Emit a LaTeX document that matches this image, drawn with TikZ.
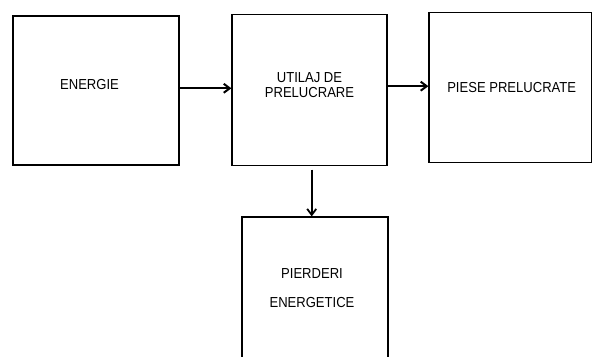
\documentclass[tikz,border=0pt]{standalone}
\usepackage{fontspec}
\setmainfont[FakeStretch=0.9]{Liberation Sans}
\usetikzlibrary{arrows.meta}

\begin{document}
\begin{tikzpicture}[x=1pt,y=1pt,line width=1.2pt,>={Straight Barb[length=6pt,width=9pt]},
  box/.style={draw,inner sep=0pt},
  lbl/.style={font=\fontsize{14.5}{15.3}\selectfont,align=center,inner sep=0pt}]
  \useasboundingbox (0,0) rectangle (593,356);
  % blocks
  \node[box,minimum width=166pt,minimum height=149pt] (energie) at (96,265.5) {};
  \node[box,minimum width=155pt,minimum height=151pt] (utilaj) at (309.5,265.8) {};
  \node[box,minimum width=162.5pt,minimum height=150pt] (piese) at (510.2,268.3) {};
  \node[box,minimum width=146pt,minimum height=150pt] (pierderi) at (315,64) {};

  \node[lbl] (energie-t) at ([shift={(-6.5,5.8)}]energie.center) {ENERGIE};
  \node[lbl] (utilaj-t) at ([shift={(0,5.2)}]utilaj.center) {UTILAJ DE\\PRELUCRARE};
  \node[lbl] (piese-t) at ([shift={(1.5,0.2)}]piese.center) {PIESE PRELUCRATE};
  \node[lbl] (pierderi-t) at ([shift={(-3,4)}]pierderi.center) {PIERDERI\\[13.7pt]ENERGETICE};

  % flows
  \draw[->,line width=2pt] ([yshift=2.2pt]energie.east) -- ([yshift=2.2pt]energie.east -| utilaj.west);
  \draw[->,line width=2pt] ([yshift=4pt]utilaj.east) -- ([yshift=4pt]utilaj.east -| piese.west);
  \draw[->,line width=1.8pt] ([shift={(2.2pt,-3.3pt)}]utilaj.south) -- ([xshift=2.2pt]utilaj.south |- pierderi.north);
\end{tikzpicture}
\end{document}
